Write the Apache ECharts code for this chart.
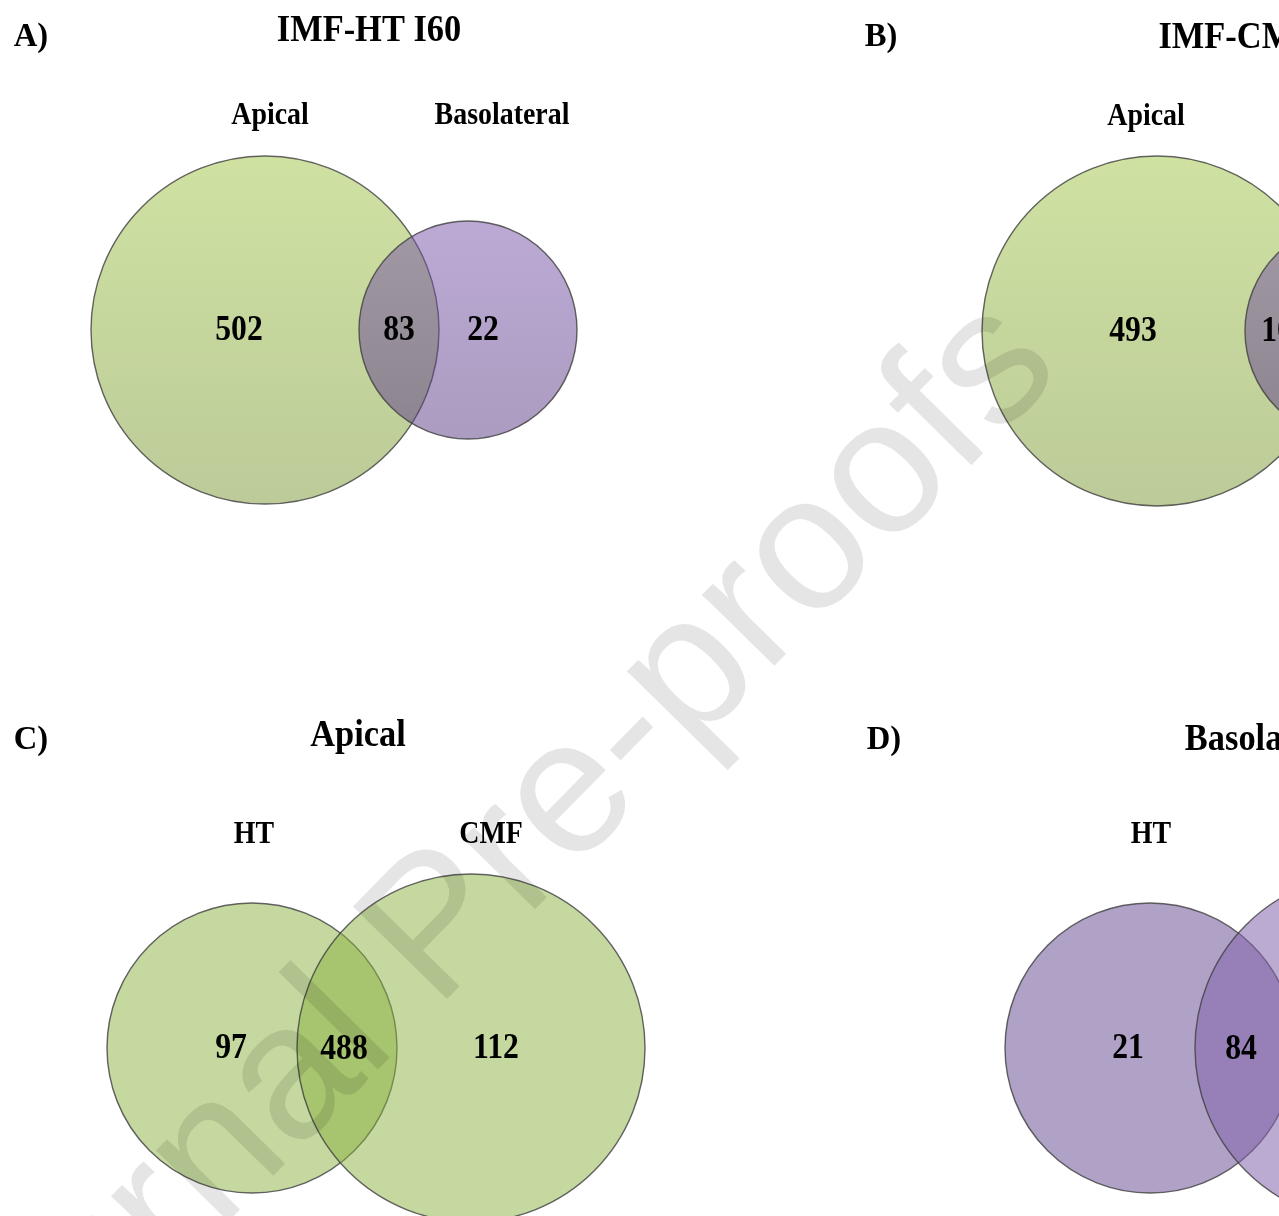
<!DOCTYPE html>
<html>
<head>
<meta charset="utf-8">
<script src="https://cdn.jsdelivr.net/npm/echarts@6/dist/echarts.min.js"></script>
<style>
  html, body { margin: 0; padding: 0; background: #ffffff; }
  #chart { width: 1279px; height: 1216px; }
</style>
</head>
<body>
<div id="chart"></div>
<script>
// Panel texts and region counts of the four two-set Venn diagrams
const panelLetters = ['A)', 'B)', 'C)', 'D)'];
const panelTitles = ['IMF-HT I60', 'IMF-CMF I60', 'Apical', 'Basolateral'];
const firstSetNames = ['Apical', 'Apical', 'HT', 'HT'];
const secondSetNames = ['Basolateral', 'Basolateral', 'CMF', 'CMF'];
const firstOnlyCounts = [502, 493, 97, 21];
const sharedCounts = [83, 107, 488, 84];
const secondOnlyCounts = [22, null, 112, null];

// Diagram geometry in page units (x to the right, y downwards)
const geometry = [
  { c1: [265, 330], r1: 174, c2: [468, 330], r2: 109,
    letter: [31, 37], title: [369, 31], set1: [270, 116], set2: [502, 116],
    n1: [239, 331], n12: [399, 331], n2: [483, 331], scheme: 'greenPurple' },
  { c1: [1157, 331], r1: 175, c2: [1354, 331], r2: 109,
    letter: [881, 37], title: [1265, 38], set1: [1146, 117], set2: [1394, 117],
    n1: [1133, 332], n12: [1285, 332], n2: [1380, 332], scheme: 'greenPurple' },
  { c1: [252, 1048], r1: 145, c2: [471, 1048], r2: 174,
    letter: [31, 740], title: [358, 736], set1: [254, 835], set2: [491, 835],
    n1: [231, 1049], n12: [344, 1050], n2: [496, 1049], scheme: 'green' },
  { c1: [1150, 1048], r1: 145, c2: [1369, 1048], r2: 174,
    letter: [884, 740], title: [1268, 740], set1: [1151, 835], set2: [1388, 835],
    n1: [1128, 1049], n12: [1241, 1050], n2: [1390, 1049], scheme: 'purple' }
];

const vGrad = (top, bottom) => new echarts.graphic.LinearGradient(0, 0, 0, 1, [
  { offset: 0, color: top }, { offset: 1, color: bottom }
]);

const fills = {
  greenPurple: [
    () => vGrad('rgba(159,197,69,0.5)', 'rgba(121,151,51,0.5)'),
    () => vGrad('rgba(121,85,171,0.5)', 'rgba(87,57,129,0.5)')
  ],
  green: [() => 'rgba(137,177,63,0.5)', () => 'rgba(137,177,63,0.5)'],
  purple: [() => 'rgba(97,67,143,0.5)', () => 'rgba(131,100,171,0.55)']
};

const SERIF = '"Liberation Serif", "Times New Roman", serif';
const OUTLINE = 'rgba(62,62,62,0.8)';

function label(api, pos, text, size, sx) {
  const p = api.coord(pos);
  return {
    type: 'text',
    x: p[0], y: p[1],
    scaleX: sx,
    z2: 10,
    style: {
      text: String(text),
      fill: '#000000',
      font: 'bold ' + size + 'px ' + SERIF,
      textAlign: 'center',
      textVerticalAlign: 'middle'
    }
  };
}

function renderPanel(params, api) {
  const i = params.dataIndex;
  const g = geometry[i];
  const f = fills[g.scheme];
  const children = [];
  [[g.c1, g.r1, f[0]], [g.c2, g.r2, f[1]]].forEach(([c, r, fill], k) => {
    const p = api.coord(c);
    const rad = api.size([r, 0])[0];
    children.push({
      type: 'circle',
      z2: k,
      shape: { cx: p[0], cy: p[1], r: rad },
      style: { fill: fill(), stroke: OUTLINE, lineWidth: 1.4 }
    });
  });
  children.push(label(api, g.letter, panelLetters[i], 34, 0.96));
  children.push(label(api, g.title, panelTitles[i], 37, 0.93));
  children.push(label(api, g.set1, firstSetNames[i], 31, 0.9));
  children.push(label(api, g.set2, secondSetNames[i], 31, 0.9));
  children.push(label(api, g.n1, firstOnlyCounts[i], 36, 0.88));
  children.push(label(api, g.n12, sharedCounts[i], 36, 0.88));
  if (secondOnlyCounts[i] != null) children.push(label(api, g.n2, secondOnlyCounts[i], 36, 0.88));
  return { type: 'group', children };
}

const chart = echarts.init(document.getElementById('chart'), null, { renderer: 'canvas' });
chart.setOption({
  animation: false,
  backgroundColor: '#ffffff',
  grid: { left: 0, right: 0, top: 0, bottom: 0 },
  xAxis: { type: 'value', min: 0, max: 1279, show: false },
  yAxis: { type: 'value', min: 0, max: 1216, inverse: true, show: false },
  series: [{
    type: 'custom',
    coordinateSystem: 'cartesian2d',
    clip: false,
    data: panelLetters.map((_, i) => [i]),
    renderItem: renderPanel
  }],
  graphic: [{
    type: 'text',
    z: 100,
    x: 473, y: 897,
    rotation: 45.5 * Math.PI / 180,
    silent: true,
    style: {
      text: 'Journal Pre-proofs',
      font: '192px "Liberation Sans", Arial, sans-serif',
      fill: 'rgba(0,0,0,0.1)',
      textAlign: 'center',
      textVerticalAlign: 'middle'
    }
  }]
});
</script>
</body>
</html>
